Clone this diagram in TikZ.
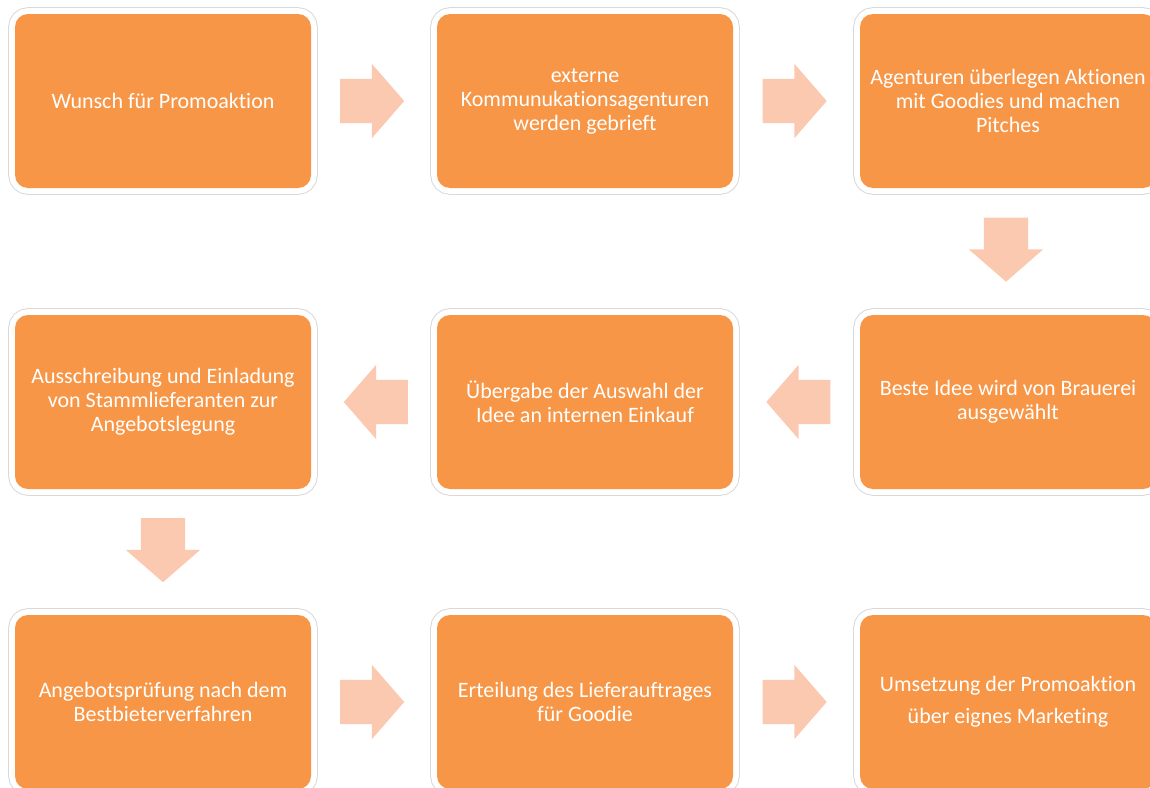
\documentclass[tikz,border=0pt]{standalone}
\usepackage{fontspec}
\setmainfont[Ligatures=NoCommon]{Carlito}
\usetikzlibrary{shapes.arrows,calc}
\definecolor{stepOrange}{RGB}{247,150,70}
\definecolor{arrowPeach}{RGB}{250,201,176}
\definecolor{ringGrey}{RGB}{217,217,217}
\begin{document}
\begin{tikzpicture}[x=1pt,y=-1pt,
  stepbox/.style={rounded corners=13pt, fill=stepOrange,
    preaction={draw=ringGrey, line width=13.6pt},
    preaction={draw=white, line width=11.6pt},
    minimum width=296pt, minimum height=174pt, inner sep=0pt,
    text=white, align=center, font=\fontsize{22}{24}\selectfont},
  blockarrow/.style={single arrow, fill=arrowPeach, draw=none, anchor=tail,
    minimum height=64pt, minimum width=74pt, inner xsep=0pt, inner ysep=22pt,
    single arrow head extend=15pt, single arrow tip angle=98}]
\path[use as bounding box, clip] (0,0) rectangle (1150,787);

% first row
\node[stepbox] (wunsch) at (163,101) {Wunsch für Promoaktion};
\node[stepbox] (briefing) at (585,101) {externe\\Kommunukationsagenturen\\werden gebrieft};
\node[stepbox] (pitch) at (1008,101) {Agenturen überlegen Aktionen\\mit Goodies und machen\\Pitches};

% second row
\node[stepbox] (auswahl) at (1008,402) {Beste Idee wird von Brauerei\\ausgewählt};
\node[stepbox] (uebergabe) at (585,402) {Übergabe der Auswahl der\\Idee an internen Einkauf};
\node[stepbox] (ausschreibung) at (163,402) {Ausschreibung und Einladung\\von Stammlieferanten zur\\Angebotslegung};

% third row
\node[stepbox] (pruefung) at (163,702) {Angebotsprüfung nach dem\\Bestbieterverfahren};
\node[stepbox] (erteilung) at (585,702) {Erteilung des Lieferauftrages\\für Goodie};
\node[stepbox] (umsetzung) at (1008,702) {Umsetzung der Promoaktion\\[8pt]über eignes Marketing};

% block arrows (tail placed 34pt before the gap centre)
\node[blockarrow] (a1) at ($(wunsch.east)!0.5!(briefing.west)+(-34,0)$) {};
\node[blockarrow] (a2) at ($(briefing.east)!0.5!(pitch.west)+(-34,0)$) {};
\node[blockarrow, rotate=-90] (a3) at ($(pitch.south)!0.5!(auswahl.north)+(-2,-34)$) {};
\node[blockarrow, rotate=180] (a4) at ($(auswahl.west)!0.5!(uebergabe.east)+(34,0)$) {};
\node[blockarrow, rotate=180] (a5) at ($(uebergabe.west)!0.5!(ausschreibung.east)+(34,0)$) {};
\node[blockarrow, rotate=-90] (a6) at ($(ausschreibung.south)!0.5!(pruefung.north)+(0,-34)$) {};
\node[blockarrow] (a7) at ($(pruefung.east)!0.5!(erteilung.west)+(-34,0)$) {};
\node[blockarrow] (a8) at ($(erteilung.east)!0.5!(umsetzung.west)+(-34,0)$) {};
\end{tikzpicture}
\end{document}
